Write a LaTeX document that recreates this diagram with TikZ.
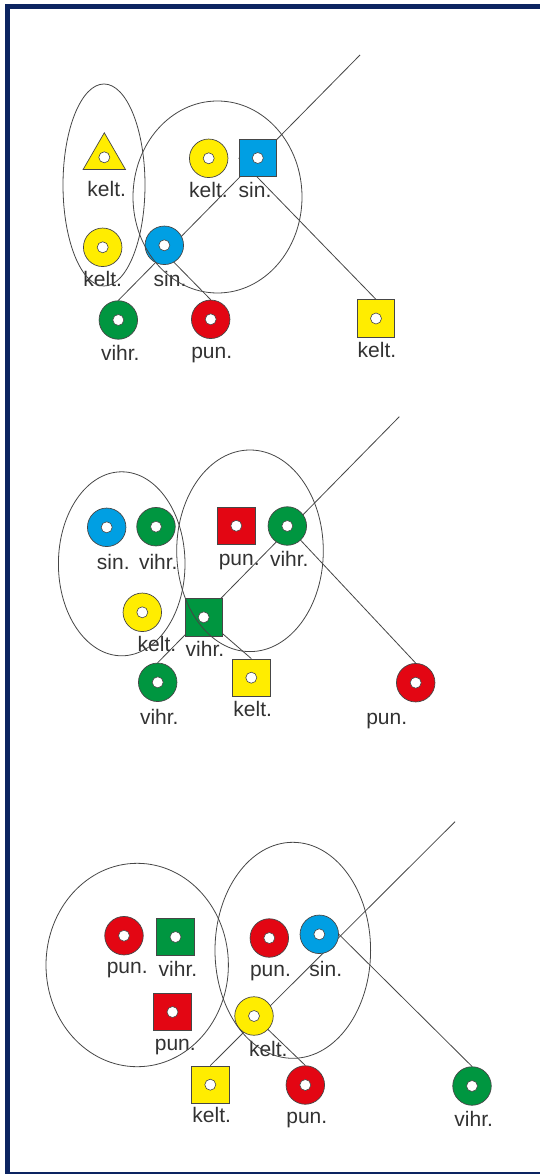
\documentclass[tikz,border=0pt]{standalone}
\usepackage{fontspec}
\setmainfont{Liberation Sans}
\usetikzlibrary{shapes.geometric}
\pgfdeclarelayer{bg}
\pgfsetlayers{bg,main}
\definecolor{navy}{RGB}{12,36,97}
\definecolor{ky}{RGB}{255,237,0}
\definecolor{sb}{RGB}{0,159,227}
\definecolor{vg}{RGB}{0,150,64}
\definecolor{pr}{RGB}{227,6,19}
\definecolor{ink}{RGB}{70,70,70}
\definecolor{txt}{RGB}{50,50,50}
\begin{document}
\begin{tikzpicture}[x=1pt,y=-1pt,
  donut/.style={circle,draw=ink,line width=0.7pt,fill=#1,minimum size=38.5pt,inner sep=0pt},
  sqbox/.style={rectangle,draw=ink,line width=0.7pt,fill=#1,minimum size=37.5pt,inner sep=0pt},
  tribox/.style={regular polygon,regular polygon sides=3,draw=ink,line width=0.7pt,fill=#1,minimum size=49pt,inner sep=0pt},
  lbl/.style={font=\fontsize{21}{21}\selectfont,text=txt,anchor=base,inner sep=0pt},
  hole/.style={fill=white,draw=ink,line width=0.6pt},
  conn/.style={draw=ink,line width=0.8pt},
  group/.style={draw=ink,line width=0.8pt}]
\useasboundingbox (0,0) rectangle (539,1174);
\draw[navy,line width=5pt] (7.5,6.5) rectangle (560,1174.5);

% ---------- panel 1 ----------
\node[tribox=ky] (a1) at (104.3,157.3) {};
\node[donut=ky] (a2) at (102.7,247.3) {};
\node[donut=ky] (a3) at (208.7,158.3) {};
\node[sqbox=sb] (a4) at (257.8,158) {};
\node[donut=sb] (a5) at (164.3,245.3) {};
\node[donut=vg] (a6) at (118.3,320) {};
\node[donut=pr] (a7) at (210.7,319.3) {};
\node[sqbox=ky] (a8) at (376,318.5) {};
\coordinate (t1) at (360,55);
\begin{pgfonlayer}{bg}
\draw[conn] (t1) -- (a6.north);
\draw[conn] (a4.west) -- (a8.north);
\draw[conn] ([xshift=-7pt]a5.center) -- (a7.north);
\end{pgfonlayer}
\node[lbl] (la1) at (106.7,196.7) {kelt.};
\node[lbl] (la2) at (102.7,286.7) {kelt.};
\node[lbl] (la3) at (208.5,197.7) {kelt.};
\node[lbl] (la4) at (255,197.7) {sin.};
\node[lbl] (la5) at (170,286.7) {sin.};
\node[lbl] (la6) at (120.3,360) {vihr.};
\node[lbl] (la7) at (211.7,358.3) {pun.};
\node[lbl] (la8) at (377,357) {kelt.};
\draw[group] (104,185) ellipse [x radius=41, y radius=101];
\draw[group] (217.5,197) ellipse [x radius=84.5, y radius=96];

% ---------- panel 2 ----------
\node[donut=sb] (b1) at (106.7,527.3) {};
\node[donut=vg] (b2) at (156,526.7) {};
\node[sqbox=pr] (b3) at (236.3,525.8) {};
\node[donut=vg] (b4) at (287.3,526) {};
\node[donut=ky] (b5) at (142.3,612.3) {};
\node[sqbox=vg] (b6) at (203.7,617.3) {};
\node[donut=vg] (b7) at (157.7,682.3) {};
\node[sqbox=ky] (b8) at (251.3,677.7) {};
\node[donut=pr] (b9) at (415.7,682.7) {};
\coordinate (t2) at (399.3,416.7);
\begin{pgfonlayer}{bg}
\draw[conn] (t2) -- (b7.north);
\draw[conn] (b4.center) -- (b9.north);
\draw[conn] (b6.center) -- (b8.north);
\end{pgfonlayer}
\node[lbl] (lb1) at (113.3,569.3) {sin.};
\node[lbl] (lb2) at (158.3,569.3) {vihr.};
\node[lbl] (lb3) at (239.2,565.7) {pun.};
\node[lbl] (lb4) at (289.3,566.7) {vihr.};
\node[lbl] (lb5) at (157,651.7) {kelt.};
\node[lbl] (lb6) at (205,656.7) {vihr.};
\node[lbl] (lb7) at (159.3,724) {vihr.};
\node[lbl] (lb8) at (252.7,716.7) {kelt.};
\node[lbl] (lb9) at (386.7,724) {pun.};
\draw[group] (121.7,563.8) ellipse [x radius=63.3, y radius=92];
\draw[group] (250,550.8) ellipse [x radius=73.3, y radius=100.8];

% ---------- panel 3 ----------
\node[donut=pr] (c1) at (124,935.7) {};
\node[sqbox=vg] (c2) at (175.5,937) {};
\node[sqbox=pr] (c3) at (172.5,1012) {};
\node[donut=pr] (c4) at (269.3,938) {};
\node[donut=sb] (c5) at (319.3,934.3) {};
\node[donut=ky] (c6) at (254,1016) {};
\node[sqbox=ky] (c7) at (210.3,1084.7) {};
\node[donut=pr] (c8) at (305.3,1085) {};
\node[donut=vg] (c9) at (472,1086) {};
\coordinate (t3) at (455,821.7);
\begin{pgfonlayer}{bg}
\draw[conn] (t3) -- (c7.north);
\draw[conn] (c5.east) -- (c9.north);
\draw[conn] (c6.center) -- (c8.north);
\end{pgfonlayer}
\node[lbl] (lc1) at (127.2,973.3) {pun.};
\node[lbl] (lc2) at (178,976.7) {vihr.};
\node[lbl] (lc3) at (175.3,1050) {pun.};
\node[lbl] (lc4) at (270.5,976.7) {pun.};
\node[lbl] (lc5) at (325.8,976) {sin.};
\node[lbl] (lc6) at (268.3,1056) {kelt.};
\node[lbl] (lc7) at (211.7,1122.7) {kelt.};
\node[lbl] (lc8) at (306.8,1123.3) {pun.};
\node[lbl] (lc9) at (473.7,1126.7) {vihr.};
\draw[group] (137.2,965) ellipse [x radius=91.2, y radius=101.7];
\draw[group] (292.8,950.3) ellipse [x radius=77.8, y radius=108];

% holes
\foreach \n in {a1,a2,a3,a4,a5,a6,a7,a8,b1,b2,b3,b4,b5,b6,b7,b8,b9,c1,c2,c3,c4,c5,c6,c7,c8,c9}
  \filldraw[hole] (\n.center) circle (5.5);
\end{tikzpicture}
\end{document}
